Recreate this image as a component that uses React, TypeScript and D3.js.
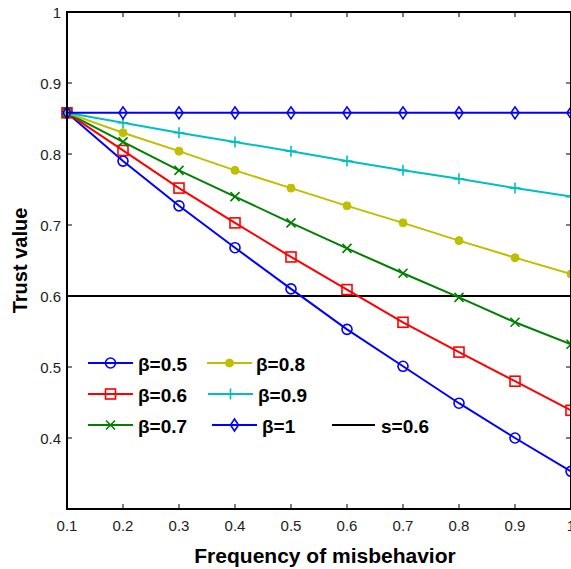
import React from "react";
import * as d3 from "d3";

const xValues = [0.1, 0.2, 0.3, 0.4, 0.5, 0.6, 0.7, 0.8, 0.9, 1.0];
const b05 = [0.858, 0.790, 0.727, 0.668, 0.610, 0.553, 0.501, 0.449, 0.400, 0.353];
const b06 = [0.858, 0.805, 0.752, 0.703, 0.655, 0.609, 0.563, 0.521, 0.480, 0.439];
const b07 = [0.858, 0.817, 0.777, 0.740, 0.703, 0.667, 0.632, 0.598, 0.563, 0.532];
const b08 = [0.858, 0.830, 0.804, 0.777, 0.752, 0.727, 0.703, 0.678, 0.654, 0.631];
const b09 = [0.858, 0.844, 0.830, 0.817, 0.804, 0.790, 0.777, 0.765, 0.752, 0.740];
const b10 = [0.858, 0.858, 0.858, 0.858, 0.858, 0.858, 0.858, 0.858, 0.858, 0.858];
const threshold = 0.6;
const xTicks = [0.1, 0.2, 0.3, 0.4, 0.5, 0.6, 0.7, 0.8, 0.9, 1];
const yTicks = [0.4, 0.5, 0.6, 0.7, 0.8, 0.9, 1];

type Marker = "circle" | "square" | "x" | "dot" | "plus" | "diamond";
const series: { label: string; values: number[]; color: string; marker: Marker }[] = [
  { label: "β=0.5", values: b05, color: "#0000ff", marker: "circle" },
  { label: "β=0.6", values: b06, color: "#ff0000", marker: "square" },
  { label: "β=0.7", values: b07, color: "#008000", marker: "x" },
  { label: "β=0.8", values: b08, color: "#bfbf00", marker: "dot" },
  { label: "β=0.9", values: b09, color: "#00bfbf", marker: "plus" },
  { label: "β=1", values: b10, color: "#0000ff", marker: "diamond" },
];

const W = 571, H = 569;
const L = 67, R = 571, T = 12, B = 509;
const FONT = "'Liberation Sans', Arial, Helvetica, sans-serif";

function MarkerShape({ type, x, y, color }: { type: Marker; x: number; y: number; color: string }) {
  const sw = 1.6;
  switch (type) {
    case "circle":
      return <circle cx={x} cy={y} r={5} fill="none" stroke={color} strokeWidth={sw} />;
    case "square":
      return <rect x={x - 5} y={y - 5} width={10} height={10} fill="none" stroke={color} strokeWidth={sw} />;
    case "x":
      return (
        <path d={`M${x - 4.5},${y - 4.5}L${x + 4.5},${y + 4.5}M${x - 4.5},${y + 4.5}L${x + 4.5},${y - 4.5}`} stroke={color} strokeWidth={sw} />
      );
    case "dot":
      return <circle cx={x} cy={y} r={4} fill={color} stroke={color} strokeWidth={1} />;
    case "plus":
      return <path d={`M${x - 5.5},${y}L${x + 5.5},${y}M${x},${y - 5.5}L${x},${y + 5.5}`} stroke={color} strokeWidth={sw} />;
    case "diamond":
      return <path d={`M${x},${y - 6}L${x + 4},${y}L${x},${y + 6}L${x - 4},${y}Z`} fill="none" stroke={color} strokeWidth={sw} />;
  }
}

export default function App() {
  const x = d3.scaleLinear().domain([0.1, 1]).range([L, R]);
  const y = d3.scaleLinear().domain([0.3, 1]).range([B, T]);
  const line = d3
    .line<number>()
    .x((_, i) => x(xValues[i]))
    .y((d) => y(d));

  const legendRows = [363, 394, 425];
  const legendItems = [
    { s: series[0], lx: 88, row: 0, tx: 138 },
    { s: series[1], lx: 88, row: 1, tx: 138 },
    { s: series[2], lx: 88, row: 2, tx: 138 },
    { s: series[3], lx: 207, row: 0, tx: 256 },
    { s: series[4], lx: 208, row: 1, tx: 258 },
    { s: series[5], lx: 212, row: 2, tx: 262 },
  ];

  return (
    <svg width={W} height={H} style={{ position: "absolute", left: 0, top: 0, background: "#fff" }} fontFamily={FONT}>
      <rect x={0} y={0} width={W} height={H} fill="#fff" />
      <line x1={L} x2={R} y1={y(threshold)} y2={y(threshold)} stroke="#000" strokeWidth={2} />
      {series.map((s) => (
        <g key={s.label}>
          <path d={line(s.values) || ""} fill="none" stroke={s.color} strokeWidth={2} />
          {s.values.map((v, i) => (
            <MarkerShape key={i} type={s.marker} x={x(xValues[i])} y={y(v)} color={s.color} />
          ))}
        </g>
      ))}
      <path d={`M${L},${T}L${R},${T}L${R},${B}L${L},${B}Z`} fill="none" stroke="#000" strokeWidth={2} />
      {xTicks.map((t) => (
        <g key={"xt" + t}>
          <line x1={x(t)} x2={x(t)} y1={B} y2={B - 5} stroke="#000" strokeWidth={1} />
          <line x1={x(t)} x2={x(t)} y1={T} y2={T + 5} stroke="#000" strokeWidth={1} />
          <text x={x(t)} y={525} textAnchor="middle" dominantBaseline="central" fontSize={15} fill="#222">
            {d3.format("")(t)}
          </text>
        </g>
      ))}
      {yTicks.map((t) => (
        <g key={"yt" + t}>
          <line x1={L} x2={L + 5} y1={y(t)} y2={y(t)} stroke="#000" strokeWidth={1} />
          <line x1={R} x2={R - 5} y1={y(t)} y2={y(t)} stroke="#000" strokeWidth={1} />
          <text x={61} y={y(t)} textAnchor="end" dominantBaseline="central" fontSize={15} fill="#222">
            {d3.format("")(t)}
          </text>
        </g>
      ))}
      <text x={325} y={555} textAnchor="middle" dominantBaseline="central" fontSize={21} fontWeight="bold">
        Frequency of misbehavior
      </text>
      <text
        transform={`translate(20,${(T + B) / 2}) rotate(-90)`}
        textAnchor="middle"
        dominantBaseline="central"
        fontSize={20}
        fontWeight="bold"
      >
        Trust value
      </text>
      {legendItems.map((it) => {
        const yy = legendRows[it.row];
        return (
          <g key={"lg" + it.s.label}>
            <line x1={it.lx} x2={it.lx + 45} y1={yy} y2={yy} stroke={it.s.color} strokeWidth={2} />
            <MarkerShape type={it.s.marker} x={it.lx + 22.5} y={yy} color={it.s.color} />
            <text x={it.tx} y={yy + 1} dominantBaseline="central" fontSize={19} fontWeight="bold">
              {it.s.label}
            </text>
          </g>
        );
      })}
      <line x1={332} x2={375} y1={legendRows[2]} y2={legendRows[2]} stroke="#000" strokeWidth={2} />
      <text x={381} y={legendRows[2] + 1} dominantBaseline="central" fontSize={19} fontWeight="bold">
        s=0.6
      </text>
    </svg>
  );
}
